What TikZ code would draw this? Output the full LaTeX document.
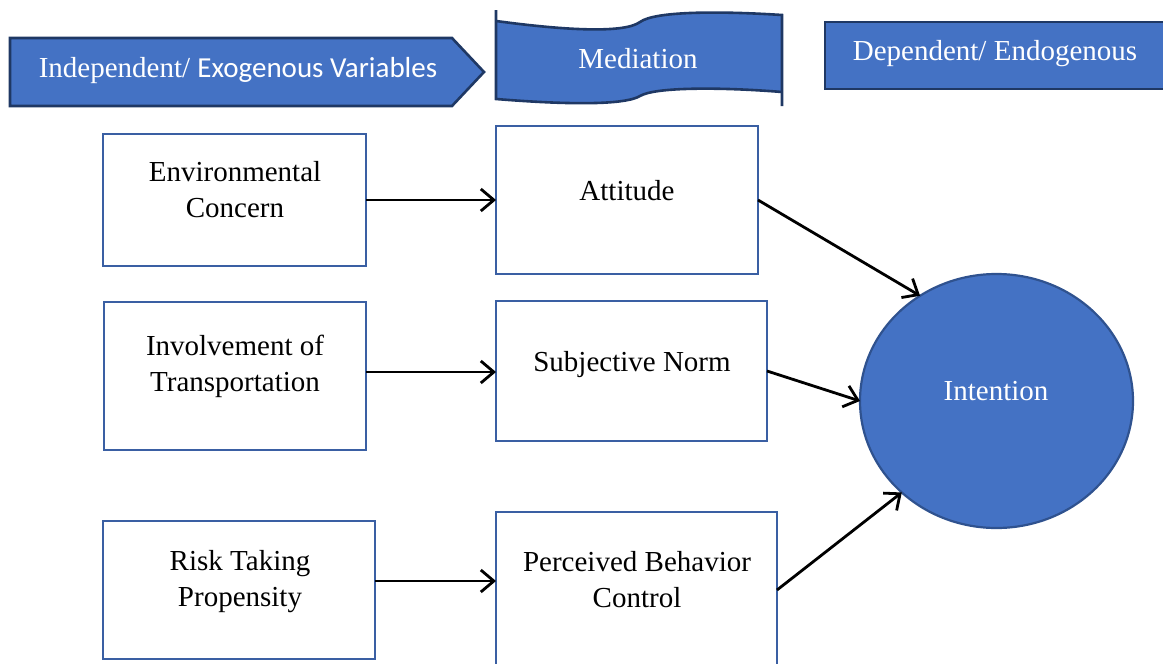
\documentclass[tikz,border=0pt]{standalone}
\usepackage{fontspec}
\setmainfont{Liberation Serif}
\newfontfamily\calibri{Carlito}
\usetikzlibrary{arrows.meta,shapes.geometric}
\definecolor{fillblue}{HTML}{4472C4}
\definecolor{navy}{HTML}{1F3864}
\definecolor{boxblue}{HTML}{3A5FA3}
\definecolor{ringblue}{HTML}{2F528F}
\begin{document}
\begin{tikzpicture}[x=1pt,y=-1pt,
  every node/.style={inner sep=0pt, outer sep=0pt},
  txt/.style={font=\fontsize{29}{36}\selectfont, align=center},
  wtxt/.style={txt, text=white},
  varbox/.style={draw=boxblue, line width=2.6pt, fill=white, rectangle},
  link/.style={draw=black, line width=2.8pt, -{Straight Barb[length=13pt,width=22pt]}},
  header/.style={fill=fillblue, draw=navy, line width=2.6pt, line join=miter}]
\useasboundingbox (0,0) rectangle (1163,664);
\clip (0,0) rectangle (1163,664);

% header: independent variables (pentagon arrow)
\path[header] (10,38) -- (452,38) -- (484,72) -- (452,106) -- (10,106) -- cycle;
\node[wtxt, anchor=base] (indepT) at (238,77) {Independent/ {\calibri Exogenous Variables}};

% header: mediation (wave banner)
\fill[fillblue] (496,21) .. controls (570,31) and (625,33) .. (640,22)
  .. controls (655,11) and (720,11) .. (782,15) -- (782,92)
  .. controls (720,87) and (655,87) .. (640,96)
  .. controls (625,105) and (570,105) .. (496,99) -- cycle;
\draw[navy, line width=2.6pt] (496,10) -- (496,99)
  .. controls (570,105) and (625,105) .. (640,96)
  .. controls (655,87) and (720,87) .. (782,92);
\draw[navy, line width=2.6pt] (496,21) .. controls (570,31) and (625,33) .. (640,22)
  .. controls (655,11) and (720,11) .. (782,15) -- (782,106);
\node[wtxt, anchor=base] (medT) at (638,68) {Mediation};

% header: dependent variables
\path[header] (825,22) rectangle (1175,89);
\node[wtxt, anchor=base] (depT) at (995,60) {Dependent/ Endogenous};

% variable boxes
\node[varbox, minimum width=263pt, minimum height=132pt] (env) at (234.5,200) {};
\node[varbox, minimum width=262pt, minimum height=148pt] (att) at (627,200) {};
\node[varbox, minimum width=262pt, minimum height=148pt] (inv) at (235,376) {};
\node[varbox, minimum width=271pt, minimum height=140pt] (subj) at (631.5,371) {};
\node[varbox, minimum width=272pt, minimum height=138pt] (risk) at (239,590) {};
\node[varbox, minimum width=281pt, minimum height=188pt] (pbc) at (636.5,606) {};
\node[ellipse, fill=fillblue, draw=ringblue, line width=2.2pt,
      minimum width=273pt, minimum height=254pt] (int) at (996.5,401) {};

% box labels
\node[txt] (envT) at (235,190) {Environmental\\Concern};
\node[txt, anchor=base] (attT) at (627,200) {Attitude};
\node[txt] (invT) at (235,366) {Involvement of\\Transportation};
\node[txt, anchor=base] (subjT) at (632,371) {Subjective Norm};
\node[txt] (riskT) at (240,582) {Risk Taking\\Propensity};
\node[txt] (pbcT) at (637,580) {Perceived Behavior\\Control};
\node[wtxt, anchor=base] (intT) at (996,400) {Intention};

% connectors
\coordinate (row2) at (0,372);
\coordinate (row3) at (0,581);
\coordinate (row4) at (0,590);
\draw[link] (env.east) -- (att.west);
\draw[link] (inv.east |- row2) -- (subj.west |- row2);
\draw[link] (risk.east |- row3) -- (pbc.west |- row3);
\draw[link] (att.east) -- (int.126);
\draw[link] (subj.east) -- (int.180);
\draw[link] (pbc.east |- row4) -- (int.224);
\end{tikzpicture}
\end{document}
